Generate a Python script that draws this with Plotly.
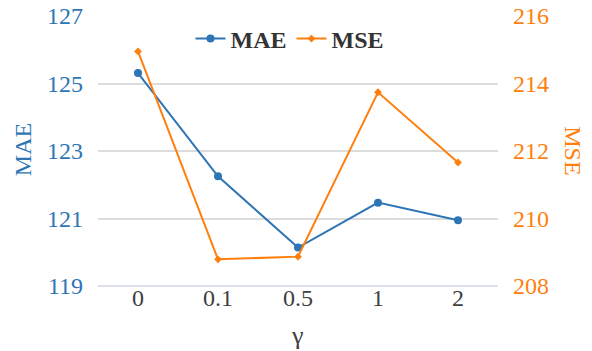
import plotly.graph_objects as go

# Sensitivity of the error metrics to gamma
gamma_labels = ["0", "0.1", "0.5", "1", "2"]
mae_values = [125.31, 122.25, 120.14, 121.47, 120.95]
mse_values = [214.95, 208.79, 208.87, 213.74, 211.66]

mae_ticks = [119, 121, 123, 125, 127]
mse_ticks = [208, 210, 212, 214, 216]

BLUE = "#2E75B6"
ORANGE = "#FF7F0E"
FONT = "Liberation Serif"

fig = go.Figure()
fig.add_trace(go.Scatter(
    x=gamma_labels, y=mae_values, name="MAE", mode="lines+markers",
    line=dict(color=BLUE, width=2),
    marker=dict(symbol="circle", size=8, color=BLUE),
    yaxis="y",
))
fig.add_trace(go.Scatter(
    x=gamma_labels, y=mse_values, name="MSE", mode="lines+markers",
    line=dict(color=ORANGE, width=2),
    marker=dict(symbol="diamond", size=6, color=ORANGE),
    yaxis="y2",
))

fig.update_layout(
    width=592, height=351,
    margin=dict(l=98, r=94, t=16, b=65),
    paper_bgcolor="white", plot_bgcolor="white",
    font=dict(family=FONT, size=24, color="#404040"),
    showlegend=True,
    legend=dict(
        orientation="h", x=0.48, xanchor="center", y=0.915, yanchor="middle",
        font=dict(family=FONT, size=24, color="#333333", weight="bold"),
        bgcolor="rgba(0,0,0,0)", itemwidth=30, tracegroupgap=0,
    ),
    xaxis=dict(
        type="category", range=[-0.5, 4.5], automargin=False,
        showgrid=False, zeroline=False,
        showline=False,
        ticks="", tickfont=dict(family=FONT, size=24, color="#404040"),
        ticklabelstandoff=-5,
    ),
    yaxis=dict(
        range=[119, 127], tickvals=mae_ticks, automargin=False,
        showgrid=True, gridcolor="#dcdcdc", gridwidth=1.5,
        zeroline=False, showline=False, ticks="",
        tickfont=dict(family=FONT, size=24, color=BLUE),
        ticklabelstandoff=14,
    ),
    yaxis2=dict(
        range=[208, 216], tickvals=mse_ticks, overlaying="y", side="right",
        automargin=False,
        showgrid=False, zeroline=False, showline=False, ticks="",
        tickfont=dict(family=FONT, size=24, color=ORANGE),
        ticklabelstandoff=14,
    ),
    shapes=[dict(
        type="line", xref="paper", yref="paper", x0=0, x1=1, y0=0, y1=0,
        line=dict(color="#d0d4ea", width=1.5), layer="below",
    )],
    annotations=[
        dict(text="MAE", xref="paper", yref="paper", x=-0.1875, y=0.503,
             xanchor="center", yanchor="middle",
             textangle=-90, showarrow=False,
             font=dict(family=FONT, size=24, color=BLUE)),
        dict(text="MSE", xref="paper", yref="paper", x=1.1875, y=0.503,
             xanchor="center", yanchor="middle",
             textangle=90, showarrow=False,
             font=dict(family=FONT, size=24, color=ORANGE)),
        dict(text="γ", xref="paper", yref="paper", x=0.4975, y=-0.185,
             xanchor="center", yanchor="middle",
             showarrow=False,
             font=dict(family=FONT, size=26, color="#404040")),
    ],
)

fig.write_html("out.html")
